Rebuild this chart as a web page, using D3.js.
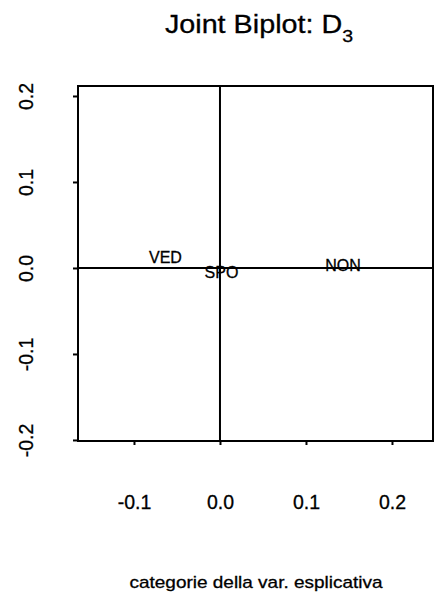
<!DOCTYPE html>
<html>
<head>
<meta charset="utf-8">
<script src="https://cdn.jsdelivr.net/npm/d3@7"></script>
<style>
	body { margin: 0; background: #fff; }
	text { font-family: "Liberation Sans", Arial, sans-serif; fill: #000; stroke: #000; stroke-width: 0.3px; }
</style>
</head>
<body>
<script>
// categorie della variabile esplicativa (coordinate nel biplot)
var categories = ['VED', 'SPO', 'NON'];
var dim1 = [-0.0634, 0.0017, 0.143];
var dim2 = [0.0122, -0.0047, 0.0029];

var xTicks = [-0.1, 0.0, 0.1, 0.2];
var yTicks = [-0.2, -0.1, 0.0, 0.1, 0.2];

var width = 434, height = 595;

var svg = d3.select('body').append('svg')
	.attr('width', width)
	.attr('height', height);

// area del grafico
var box = {left: 78, top: 86, right: 433, bottom: 441};

var x = d3.scaleLinear().domain([-0.1651, 0.2477]).range([box.left, box.right]);
var y = d3.scaleLinear().domain([-0.2012, 0.2116]).range([box.bottom, box.top]);

var fmt = function(d) { return d3.format('.1f')(d).replace('−', '-'); };

// titolo (un po' allargato come nella scansione)
var title = svg.append('text')
	.attr('transform', 'translate(259,33) scale(1.15,1)')
	.attr('text-anchor', 'middle')
	.style('font-size', '25px');
title.append('tspan').text('Joint Biplot: D');
title.append('tspan').attr('dy', 9).style('font-size', '17px').text('3');

// cornice
svg.append('rect')
	.attr('x', box.left)
	.attr('y', box.top)
	.attr('width', box.right - box.left)
	.attr('height', box.bottom - box.top)
	.attr('fill', 'none')
	.attr('stroke', '#000')
	.attr('stroke-width', 2);

// assi
var xAxis = svg.append('g')
	.attr('transform', 'translate(0,' + box.bottom + ')')
	.call(d3.axisBottom(x).tickValues(xTicks).tickSize(4).tickFormat(fmt));
xAxis.select('.domain').remove();
xAxis.selectAll('line').attr('stroke-width', 2);
xAxis.selectAll('text')
	.attr('y', 68)
	.attr('dy', 0)
	.style('font-size', '19.5px')
	.style('font-family', '"Liberation Sans", Arial, sans-serif');

var yAxis = svg.append('g')
	.attr('transform', 'translate(' + box.left + ',0)')
	.call(d3.axisLeft(y).tickValues(yTicks).tickSize(5).tickFormat(fmt));
yAxis.select('.domain').remove();
yAxis.selectAll('line').attr('stroke-width', 2);
yAxis.selectAll('text')
	.attr('x', 0)
	.attr('dy', 0)
	.attr('text-anchor', 'middle')
	.attr('transform', 'translate(-45,0) rotate(-90)')
	.style('font-size', '19.5px')
	.style('font-family', '"Liberation Sans", Arial, sans-serif');

// linee per l'origine
svg.append('line')
	.attr('x1', box.left).attr('x2', box.right)
	.attr('y1', y(0)).attr('y2', y(0))
	.attr('stroke', '#000').attr('stroke-width', 2);
svg.append('line')
	.attr('x1', x(0)).attr('x2', x(0))
	.attr('y1', box.top).attr('y2', box.bottom)
	.attr('stroke', '#000').attr('stroke-width', 2);

// etichette delle categorie
svg.selectAll('text.cat')
	.data(categories)
	.enter().append('text')
		.attr('class', 'cat')
		.attr('x', function(d, i) { return x(dim1[i]); })
		.attr('y', function(d, i) { return y(dim2[i]); })
		.attr('text-anchor', 'middle')
		.attr('dy', '0.35em')
		.style('font-size', '16px')
		.text(function(d) { return d; });

// titolo asse x
svg.append('text')
	.attr('x', 256)
	.attr('y', 588)
	.attr('text-anchor', 'middle')
	.attr('textLength', 253)
	.attr('lengthAdjust', 'spacingAndGlyphs')
	.style('font-size', '17px')
	.text('categorie della var. esplicativa');
</script>
</body>
</html>
